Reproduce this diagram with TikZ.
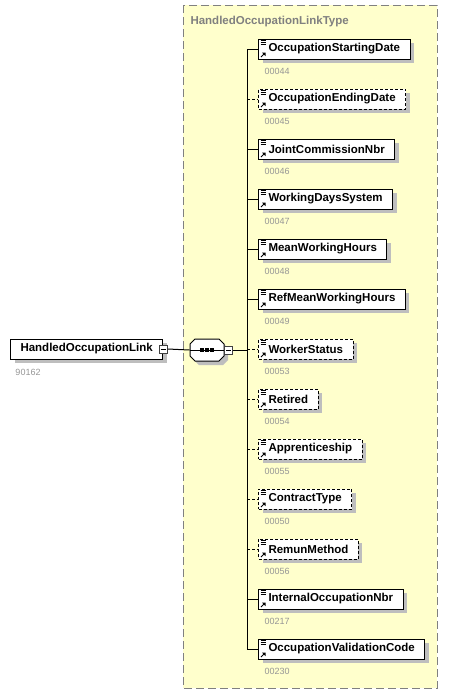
\documentclass[tikz,border=0pt]{standalone}
\usepackage{fontspec}
\setmainfont{Liberation Sans}
\usetikzlibrary{shadows}
\definecolor{typefill}{RGB}{255,255,204}
\definecolor{typeline}{RGB}{128,128,128}
\definecolor{idgray}{RGB}{150,150,150}
\definecolor{shadegray}{RGB}{190,190,190}
\tikzset{
  boxshade/.style={drop shadow={shadow xshift=4pt, shadow yshift=-4pt, fill=shadegray, opacity=1}},
  elem/.style={draw, line width=1pt, fill=white, anchor=west, minimum height=20pt,
    inner xsep=10pt, inner ysep=0pt, font=\bfseries\fontsize{11.5}{13}\selectfont, boxshade},
  mandatory/.style={solid},
  optional/.style={dash pattern=on 3pt off 2pt},
  idtext/.style={anchor=west, inner sep=0pt, text=idgray, font=\fontsize{9}{10}\selectfont},
  minusbox/.style={draw=black!75, fill=white, minimum size=8pt, inner sep=0pt, line width=.8pt,
    path picture={\draw[black, line width=.8pt] ([xshift=1.5pt]path picture bounding box.west) -- ([xshift=-1.5pt]path picture bounding box.east);}},
  seqbox/.style={minimum width=34pt, minimum height=22pt, inner sep=0pt}
}
\begin{document}
\begin{tikzpicture}[x=1pt, y=-1pt, line width=1pt]
  \useasboundingbox (0,0) rectangle (458,694);
  % type
  \draw[typeline, fill=typefill, dash pattern=on 8pt off 4pt] (183,5) rectangle (437,688);
  \node[anchor=base west, inner sep=0pt, text=typeline, font=\bfseries\fontsize{11.5}{13}\selectfont] (typename) at (190,24) {HandledOccupationLinkType};
  % root element
  \node[elem] (root) at (10,349) {HandledOccupationLink};
  \node[idtext] (rootid) at (15,372) {90162};
  \node[minusbox] (rootminus) at (root.east) {};
  % sequence
  \node[seqbox] (seq) at (207,350) {};
  \begin{scope}[shift={(seq.center)}]
    \fill[shadegray, shift={(4,4)}] (-12,-11) -- (12,-11) -- (17,-6) -- (17,6) -- (12,11) -- (-12,11) -- (-17,6) -- (-17,-6) -- cycle;
    \draw[fill=white] (-12,-11) -- (12,-11) -- (17,-6) -- (17,6) -- (12,11) -- (-12,11) -- (-17,6) -- (-17,-6) -- cycle;
  \end{scope}
  \draw (seq.west) -- (seq.east);
  \foreach \dx in {-5,0,5}
    \fill ([xshift=\dx pt]seq.center) +(-1.6,-1.6) rectangle +(1.6,1.6);
  \node[minusbox] (seqminus) at ([xshift=4pt]seq.east) {};
  \coordinate (spine) at (247,350);
  \draw (rootminus.east) -- (seq.west);
  \draw (seqminus.east) -- (spine);
  % children
  \foreach \name/\num/\kind [count=\i] in {
      OccupationStartingDate/00044/mandatory,
      OccupationEndingDate/00045/optional,
      JointCommissionNbr/00046/mandatory,
      WorkingDaysSystem/00047/mandatory,
      MeanWorkingHours/00048/mandatory,
      RefMeanWorkingHours/00049/mandatory,
      WorkerStatus/00053/optional,
      Retired/00054/optional,
      Apprenticeship/00055/optional,
      ContractType/00050/optional,
      RemunMethod/00056/optional,
      InternalOccupationNbr/00217/mandatory,
      OccupationValidationCode/00230/mandatory} {
    \pgfmathsetmacro{\yc}{49+50*(\i-1)}
    \node[elem, \kind] (e\i) at (258,\yc) {\name};
    \node[idtext] (id\i) at (264,\yc+22.5) {\num};
    \draw[\kind] (e\i.west -| spine) -- (e\i.west);
    % icons
    \begin{scope}[shift={(e\i.north west)}, line width=.8pt]
      \draw (2.5,2) -- (7.5,2) (2.5,4) -- (8,4) (2.5,6) -- (8,6);
    \end{scope}
    \begin{scope}[shift={(e\i.south west)}]
      \draw[line width=1pt] (3,-2.5) -- (6,-5.5);
      \fill (7.5,-7) -- (4,-7) -- (7.5,-3.5) -- cycle;
    \end{scope}
  }
  \draw (e1.west -| spine) -- (e13.west -| spine);
\end{tikzpicture}
\end{document}
